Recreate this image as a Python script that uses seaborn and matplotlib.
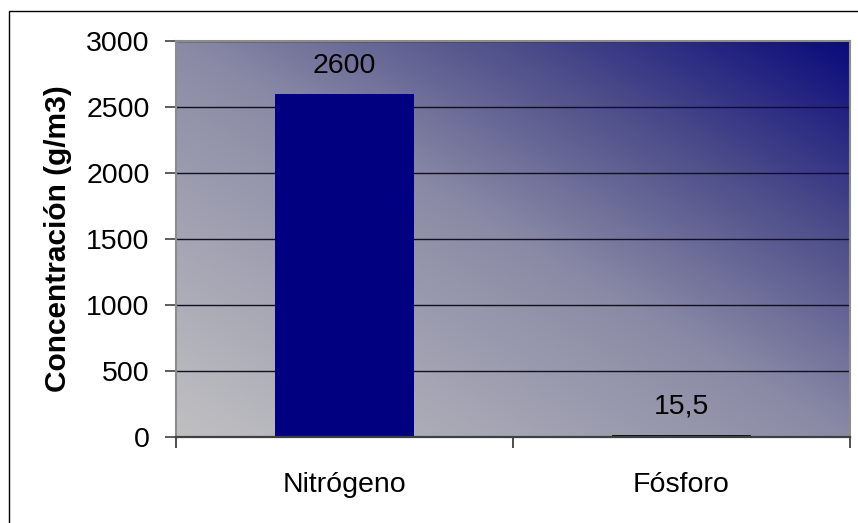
import numpy as np
import pandas as pd
import matplotlib
matplotlib.use("Agg")
import matplotlib.pyplot as plt
from matplotlib.colors import LinearSegmentedColormap
from matplotlib.patches import Rectangle
import seaborn as sns

# Nutrient concentrations
nutrientes = ["Nitrógeno", "Fósforo"]
concentracion = [2600, 15.5]
y_ticks = [0, 500, 1000, 1500, 2000, 2500, 3000]

df = pd.DataFrame({"nutriente": nutrientes, "conc": concentracion})

sns.set_theme(style="white")
plt.rcParams["font.family"] = ["Liberation Sans", "DejaVu Sans"]

fig = plt.figure(figsize=(8.58, 5.23), dpi=100)
fig.patch.set_facecolor("white")

# thin frame around the chart area (open to the right and bottom edges)
fig.add_artist(Rectangle((9 / 858, -0.1), 1.2, 1.1 - 11 / 523, transform=fig.transFigure,
                         fill=False, edgecolor="black", linewidth=1.0, zorder=0))

ax = fig.add_axes([176 / 858, 86 / 523, 674 / 858, 396 / 523])

sns.barplot(data=df, x="nutriente", y="conc", color="#000080", saturation=1,
            width=0.41, ax=ax, zorder=3, edgecolor="none")

ax.set_xlim(-0.5, 1.5)
ax.set_ylim(0, 3000)

# diagonal gradient plot area: light gray bottom-left to navy top-right
cmap = LinearSegmentedColormap.from_list(
    "fondo", [(0.0, "#c0c0c2"), (0.5, "#8a8aa6"), (0.75, "#4c4c8a"), (1.0, "#0a0a7c")])
u = np.linspace(0, 1, 400)
v = np.linspace(0, 1, 240)
U, V = np.meshgrid(u, v)
grad = (U + V) / 2
ax.imshow(grad, cmap=cmap, origin="lower", aspect="auto",
          extent=[-0.5, 1.5, 0, 3000], zorder=0, interpolation="bilinear")

ax.set_yticks(y_ticks)
ax.set_yticklabels([str(t) for t in y_ticks])
ax.yaxis.grid(True, color="#101020", linewidth=1.0, zorder=1)
ax.xaxis.grid(False)

# category ticks between bars
ax.set_xticks([0, 1])
ax.set_xticks([-0.5, 0.5, 1.5], minor=True)
ax.tick_params(axis="x", which="major", length=0, pad=25, labelsize=20.5, labelcolor="black")
ax.tick_params(axis="x", which="minor", length=8, width=1.2, color="#303030", direction="out",
               bottom=True)
ax.tick_params(axis="y", which="major", length=8, width=1.2, color="#404040", direction="out",
               left=True, pad=11, labelsize=20.5, labelcolor="black")

ax.set_xlabel("")
ax.set_ylabel("Concentración (g/m3)", fontsize=21.5, fontweight="bold", color="black", labelpad=10)

for side in ["top", "right", "left"]:
    ax.spines[side].set_color("#8c8c8c")
    ax.spines[side].set_linewidth(1.5)
ax.spines["bottom"].set_color("#404040")
ax.spines["bottom"].set_linewidth(1.6)
for s in ax.spines.values():
    s.set_zorder(4)

etiquetas = [f"{c:g}".replace(".", ",") for c in concentracion]
ax.bar_label(ax.containers[0], labels=etiquetas, padding=11, fontsize=20.5, color="black")

fig.savefig("out.png", dpi=100)
